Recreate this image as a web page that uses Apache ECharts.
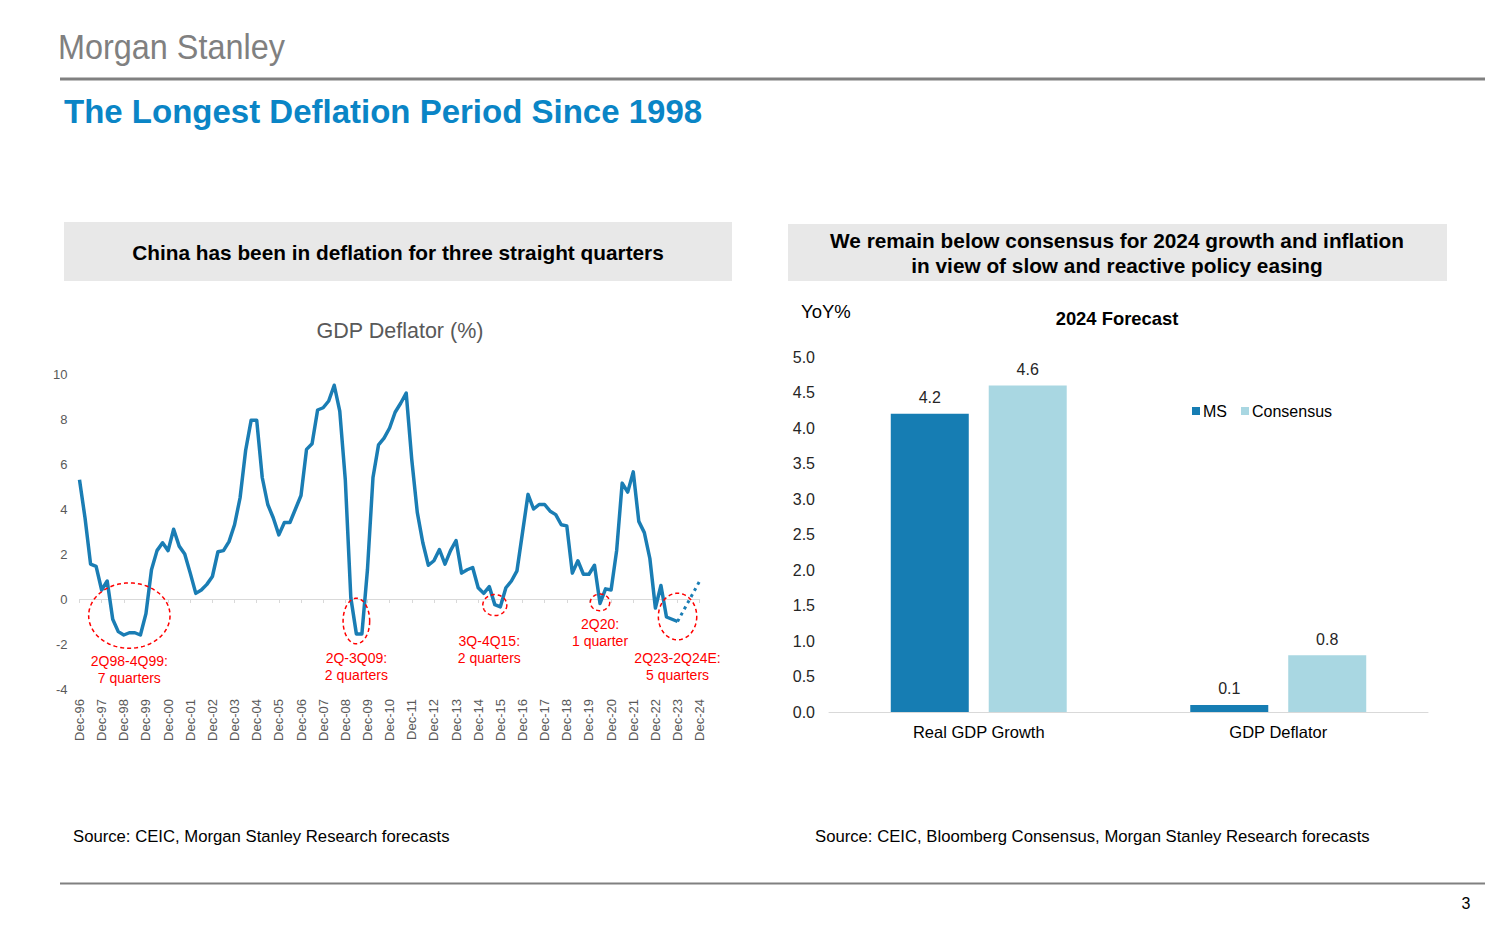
<!DOCTYPE html>
<html>
<head>
<meta charset="utf-8">
<script src="https://cdn.jsdelivr.net/npm/echarts@6/dist/echarts.min.js"></script>
<style>
html,body{margin:0;padding:0;background:#fff;}
#c{width:1500px;height:930px;}
</style>
</head>
<body>
<div id="c"></div>
<script>
// ---------- DATA ----------
// Left chart: quarterly GDP deflator (% YoY), 4Q96 ... 4Q23 (actual)
const deflatorActual = [
  5.3, 3.6, 1.55, 1.45, 0.4, 0.8, -0.9, -1.45, -1.6, -1.5,
  -1.5, -1.6, -0.65, 1.3, 2.15, 2.5, 2.15, 3.1, 2.35, 2.0,
  1.15, 0.25, 0.4, 0.65, 1.0, 2.1, 2.15, 2.55, 3.3, 4.5,
  6.6, 7.95, 7.95, 5.4, 4.2, 3.6, 2.85, 3.4, 3.4, 4.0,
  4.6, 6.65, 6.9, 8.4, 8.5, 8.8, 9.5, 8.35, 5.3, 0.05,
  -1.55, -1.55, 1.3, 5.4, 6.85, 7.15, 7.6, 8.3, 8.7, 9.15,
  6.2, 3.85, 2.5, 1.5, 1.7, 2.2, 1.55, 2.15, 2.6, 1.15,
  1.3, 1.4, 0.5, 0.25, 0.55, -0.25, -0.35, 0.5, 0.8, 1.25,
  2.95, 4.65, 4.0, 4.2, 4.2, 3.9, 3.75, 3.3, 3.25, 1.15,
  1.7, 1.1, 1.1, 1.5, -0.2, 0.45, 0.4, 2.15, 5.15, 4.75,
  5.65, 3.45, 2.95, 1.8, -0.4, 0.6, -0.8, -0.9, -1.0
];
// Forecast 4Q23 ... 4Q24 (dotted)
const deflatorForecast = [-1.0, -0.55, -0.1, 0.35, 0.8];
// Tick labels (every December)
const tickLabels = ['Dec-96','Dec-97','Dec-98','Dec-99','Dec-00','Dec-01','Dec-02','Dec-03','Dec-04','Dec-05',
  'Dec-06','Dec-07','Dec-08','Dec-09','Dec-10','Dec-11','Dec-12','Dec-13','Dec-14','Dec-15',
  'Dec-16','Dec-17','Dec-18','Dec-19','Dec-20','Dec-21','Dec-22','Dec-23','Dec-24'];
const quarterMonths = ['Mar','Jun','Sep'];
// Deflation episode annotations: [centre quarter index, centre value, label quarter index, label value]
const episodeAnchors = [
  [9.1, -0.74, 9.3, -2.39],
  [50.25, -0.98, 50.3, -2.26],
  [75.3, -0.27, 74.0, -1.5],
  [94.4, -0.15, 94.0, -0.75],
  [107.6, -0.78, 107.7, -2.26]
];
const episodeLabels = ['2Q98-4Q99:\n7 quarters', '2Q-3Q09:\n2 quarters', '3Q-4Q15:\n2 quarters', '2Q20:\n1 quarter', '2Q23-2Q24E:\n5 quarters'];

// Right chart: 2024 forecast
const forecastCategories = ['Real GDP Growth', 'GDP Deflator'];
const msValues = [4.2, 0.1];
const consensusValues = [4.6, 0.8];

// ---------- BUILD ----------
const categories = [];
tickLabels.forEach((t, i) => {
  categories.push(t);
  if (i < tickLabels.length - 1) {
    const yy = tickLabels[i + 1].slice(4);
    quarterMonths.forEach(m => categories.push(m + '-' + yy));
  }
});
const actualSeries = categories.map((c, i) => i < deflatorActual.length ? deflatorActual[i] : null);
const fStart = deflatorActual.length - 1;
const forecastSeries = categories.map((c, i) => (i >= fStart && i - fStart < deflatorForecast.length) ? deflatorForecast[i - fStart] : null);

// ellipse pixel radii (style)
const ellipseRadii = [[40.7, 32.7], [13.3, 22.8], [12, 10.5], [9.7, 8.3], [19.2, 23.3]];

const FONT = '"Liberation Sans", Arial, Helvetica, sans-serif';
const LINE = '#1a7db4';

function txt(x, y, text, font, fill, align, extra) {
  const o = {type: 'text', x: x, y: y, silent: true,
    style: {text: text, font: font, fill: fill, align: align || 'left', verticalAlign: 'middle',
            textAlign: align || 'left', textVerticalAlign: 'middle'}};
  if (extra) Object.assign(o, extra);
  return o;
}

const chart = echarts.init(document.getElementById('c'), null, {renderer: 'svg', width: 1500, height: 930});

chart.setOption({
  animation: false,
  backgroundColor: '#ffffff',
  graphic: [
    txt(58, 46, 'Morgan Stanley', '36px ' + FONT, '#808080', 'left', {scaleX: 0.9, originX: 0, originY: 0}),
    {type: 'rect', shape: {x: 60, y: 77.5, width: 1425, height: 3}, style: {fill: '#808080'}, silent: true},
    txt(64, 111, 'The Longest Deflation Period Since 1998', 'bold 33px ' + FONT, '#0a85c6'),
    {type: 'rect', shape: {x: 64, y: 222, width: 668, height: 59}, style: {fill: '#e8e8e8'}, silent: true},
    txt(398, 252, 'China has been in deflation for three straight quarters', 'bold 20.8px ' + FONT, '#000000', 'center'),
    {type: 'rect', shape: {x: 788, y: 224, width: 659, height: 57}, style: {fill: '#e8e8e8'}, silent: true},
    txt(1117, 240, 'We remain below consensus for 2024 growth and inflation', 'bold 20.8px ' + FONT, '#000000', 'center'),
    txt(1117, 265, 'in view of slow and reactive policy easing', 'bold 20.8px ' + FONT, '#000000', 'center'),
    txt(400, 331, 'GDP Deflator (%)', '21.5px ' + FONT, '#595959', 'center'),
    txt(801, 311, 'YoY%', '18.5px ' + FONT, '#000000'),
    txt(1117, 318, '2024 Forecast', 'bold 18.4px ' + FONT, '#000000', 'center'),
    txt(73, 836, 'Source: CEIC, Morgan Stanley Research forecasts', '16.7px ' + FONT, '#000000'),
    txt(815, 836, 'Source: CEIC, Bloomberg Consensus, Morgan Stanley Research forecasts', '16.7px ' + FONT, '#000000'),
    {type: 'rect', shape: {x: 60, y: 882.5, width: 1425, height: 2}, style: {fill: '#808080'}, silent: true},
    txt(1466, 903, '3', '16px ' + FONT, '#000000', 'center')
  ],
  legend: {
    data: ['MS', 'Consensus'],
    left: 1187, top: 398,
    icon: 'rect', itemWidth: 8, itemHeight: 8, itemGap: 14,
    textStyle: {fontFamily: FONT, fontSize: 16, color: '#000000', padding: [0, 0, 0, -2]},
    selectedMode: false
  },
  grid: [
    {left: 79.5, top: 374, width: 620.2, height: 315},
    {left: 829, top: 357, width: 599, height: 355}
  ],
  xAxis: [
    {
      gridIndex: 0, type: 'category', data: categories, boundaryGap: false,
      axisLine: {show: true, onZero: true, lineStyle: {color: '#d9d9d9', width: 1}},
      axisTick: {show: true, length: 4, interval: (i) => i % 4 === 0, lineStyle: {color: '#d9d9d9'}},
      axisLabel: {interval: (i) => i % 4 === 0, rotate: 90, margin: 10, fontFamily: FONT, fontSize: 13, color: '#595959'},
      splitLine: {show: false}
    },
    {
      gridIndex: 1, type: 'category', data: forecastCategories,
      axisLine: {show: true, lineStyle: {color: '#d9d9d9', width: 1}},
      axisTick: {show: false},
      axisLabel: {fontFamily: FONT, fontSize: 16.5, color: '#000000', margin: 11}
    }
  ],
  yAxis: [
    {
      gridIndex: 0, type: 'value', min: -4, max: 10, interval: 2,
      axisLine: {show: false}, axisTick: {show: false}, splitLine: {show: false},
      axisLabel: {fontFamily: FONT, fontSize: 13, color: '#595959', margin: 12}
    },
    {
      gridIndex: 1, type: 'value', min: 0, max: 5, interval: 0.5,
      axisLine: {show: false}, axisTick: {show: false}, splitLine: {show: false},
      axisLabel: {fontFamily: FONT, fontSize: 16, color: '#262626', margin: 14, formatter: (v) => v.toFixed(1)}
    }
  ],
  series: [
    {
      name: 'GDP Deflator', type: 'line', xAxisIndex: 0, yAxisIndex: 0,
      data: actualSeries, showSymbol: false, symbol: 'none', connectNulls: false,
      lineStyle: {color: LINE, width: 3.5, join: 'round'}, z: 3
    },
    {
      name: 'GDP Deflator forecast', type: 'line', xAxisIndex: 0, yAxisIndex: 0,
      data: forecastSeries, showSymbol: false, symbol: 'none',
      lineStyle: {color: LINE, width: 3, type: [3, 4]}, z: 3
    },
    {
      name: 'episodes', type: 'custom', xAxisIndex: 0, yAxisIndex: 0, z: 4, silent: true, clip: false,
      data: episodeAnchors,
      encode: {x: 0, y: 1},
      renderItem: function (params, api) {
        const i = params.dataIndex;
        const c = api.coord([api.value(0), api.value(1)]);
        const r = ellipseRadii[i];
        const pts = [];
        for (let k = 0; k < 72; k++) {
          const a = k / 72 * Math.PI * 2;
          pts.push([c[0] + r[0] * Math.cos(a), c[1] + r[1] * Math.sin(a)]);
        }
        const t = api.coord([api.value(2), api.value(3)]);
        return {
          type: 'group',
          children: [
            {type: 'polygon', shape: {points: pts}, style: {fill: 'none', stroke: '#ff0000', lineWidth: 1.5, lineDash: [4, 3]}},
            {type: 'text', x: t[0], y: t[1],
             style: {text: episodeLabels[i], font: '14px ' + FONT, fill: '#ff0000', lineHeight: 16.5,
                     align: 'center', verticalAlign: 'top', textAlign: 'center', textVerticalAlign: 'top'}}
          ]
        };
      }
    },
    {
      name: 'MS', type: 'bar', xAxisIndex: 1, yAxisIndex: 1, data: msValues,
      barWidth: 78, barGap: '25.6%',
      itemStyle: {color: '#167db3'},
      label: {show: true, position: 'top', distance: 8, fontFamily: FONT, fontSize: 16, color: '#262626', formatter: (p) => p.value.toFixed(1)}
    },
    {
      name: 'Consensus', type: 'bar', xAxisIndex: 1, yAxisIndex: 1, data: consensusValues,
      barWidth: 78, barGap: '25.6%',
      itemStyle: {color: '#a9d7e2'},
      label: {show: true, position: 'top', distance: 8, fontFamily: FONT, fontSize: 16, color: '#262626', formatter: (p) => p.value.toFixed(1)}
    }
  ]
});
</script>
</body>
</html>
